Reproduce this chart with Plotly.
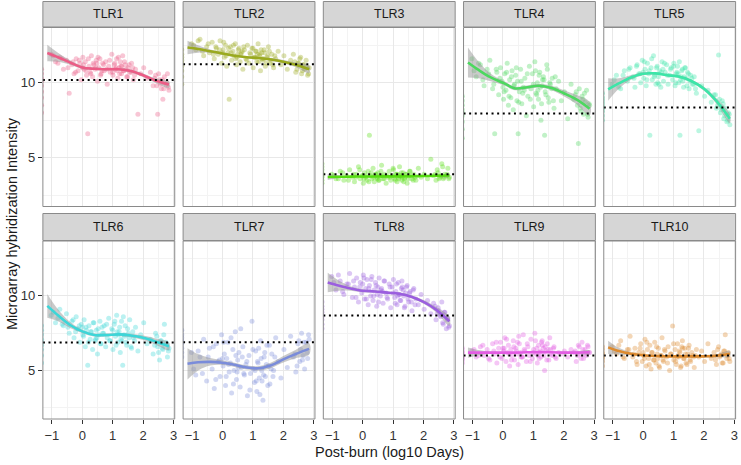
import plotly.graph_objects as go

# ---------------- data ----------------
genes = ["TLR1", "TLR2", "TLR3", "TLR4", "TLR5", "TLR6", "TLR7", "TLR8", "TLR9", "TLR10"]
gene_colors = ["#EC5C86", "#9AAA1E", "#55DD11", "#4CD85E", "#3CE6A8",
               "#3CD6D8", "#7A8CDA", "#9B5EDF", "#E35CE3", "#DD8A2E"]

# post-burn time of each patient sample (log10 days), shared by all genes
sample_x = [-1.02, -0.88, -0.74, -0.62, -0.52, -0.43,
            -0.34, -0.27, -0.2, -0.14, -0.08, -0.03, 0.02, 0.06, 0.1, 0.14, 0.18, 0.22, 0.26, 0.3,
            0.34, 0.38, 0.42, 0.46, 0.5, 0.54, 0.58, 0.62, 0.67, 0.72, 0.77, 0.82, 0.87, 0.92,
            0.97, 1.01, 1.05, 1.09, 1.13, 1.17, 1.21, 1.25, 1.29, 1.33, 1.37, 1.41, 1.46, 1.51,
            1.56, 1.62, 1.68, 1.75, 1.83, 1.92, 2.02, 2.13, 2.24, 2.33, 2.41, 2.48, 2.54, 2.6,
            2.65, 2.7, 2.75, 2.8, 2.85, 0.0, 0.48, 1.15, 1.3, 0.65,
            -0.95, -0.8, -0.66, -0.47, -0.3, -0.22, -0.1, 0.04, 0.12, 0.2, 0.28, 0.36, 0.44, 0.52,
            0.6, 0.7, 0.8, 0.9, 1.0, 1.07, 1.11, 1.19, 1.23, 1.27, 1.35, 1.39, 1.44, 1.49, 1.54,
            1.6, 1.66, 1.72, 2.38, 2.45, 2.51, 2.57, 2.63, 2.68, 2.78, 2.83]

expr_TLR1 = [11.9, 11.4, 11.7, 10.9, 11.5, 9.3, 11.2, 10.6, 11.6, 10.8, 11.3, 10.2, 11.7, 10.9, 11.4, 10.5,
             6.6, 11.1, 10.7, 11.8, 10.4, 11.2, 10.9, 11.5, 10.1, 11.0, 11.6, 10.6, 11.3, 10.8, 11.4, 9.9,
             11.1, 10.7, 11.9, 10.5, 11.2, 10.9, 11.6, 10.3, 11.0, 11.4, 10.6, 11.8, 10.8, 11.2, 10.4, 11.0,
             10.7, 11.3, 10.2, 10.9, 7.9, 10.6, 11.0, 10.3, 10.7, 9.8, 10.5, 7.9, 10.2, 9.6, 8.9, 10.4,
             9.9, 10.6, 9.5, 11.0, 11.3, 10.8, 11.1, 10.8,
             11.8, 11.3, 11.6, 11.0, 11.4, 10.7, 11.5, 11.2, 10.8, 11.6, 10.6, 11.3, 11.0, 11.7, 10.5,
             11.2, 10.9, 11.5, 10.7, 11.3, 11.0, 11.7, 10.6, 11.1, 10.8, 11.4, 10.9, 10.4, 11.2, 10.7,
             11.0, 10.5, 10.3, 9.8, 10.6, 9.9, 10.2, 9.6, 10.0, 9.7]
expr_TLR2 = [12.6, 12.2, 12.9, 11.8, 12.4, 12.0, 12.7, 11.6, 12.3, 11.9, 12.8, 11.3, 12.2, 11.7, 12.5, 11.1,
             12.0, 8.9, 12.4, 11.5, 12.1, 11.8, 12.6, 11.2, 11.9, 12.3, 11.4, 12.0, 10.9, 12.2, 11.6, 12.5,
             11.3, 11.9, 12.3, 11.0, 11.7, 12.1, 11.4, 12.6, 11.8, 10.8, 12.0, 11.5, 12.2, 11.1, 11.7, 12.4,
             11.3, 11.9, 11.0, 11.6, 12.1, 11.2, 11.8, 10.9, 11.5, 11.9, 10.7, 11.3, 11.6, 10.6, 11.2, 10.9,
             11.5, 10.5, 11.0, 12.0, 11.7, 11.9, 11.6, 12.1,
             12.5, 12.8, 12.1, 12.6, 11.9, 12.4, 12.2, 12.7, 11.8, 12.3, 12.0, 12.5, 11.6, 12.2, 11.9,
             12.4, 11.5, 12.0, 12.3, 11.7, 12.1, 11.4, 11.9, 12.2, 11.6, 12.0, 11.3, 11.8, 12.1, 11.5,
             11.2, 11.8, 11.4, 10.9, 11.3, 11.7, 10.8, 11.2, 11.0, 10.6]
expr_TLR3 = [3.9, 3.6, 4.1, 3.5, 3.8, 4.2, 3.7, 3.4, 3.9, 4.4, 3.6, 3.8, 3.3, 4.0, 3.7, 3.5,
             4.1, 6.5, 3.8, 3.6, 4.3, 3.4, 3.9, 3.7, 4.0, 3.5, 3.8, 4.5, 3.6, 3.9, 3.3, 3.7,
             4.1, 3.5, 3.8, 4.2, 3.6, 3.9, 3.4, 3.7, 4.4, 3.8, 3.5, 4.0, 3.6, 3.9, 3.3, 3.8,
             4.1, 3.6, 3.9, 3.5, 4.3, 3.7, 3.9, 3.6, 4.9, 3.8, 3.5, 4.0, 3.7, 4.6, 3.6, 3.9,
             3.8, 4.3, 3.7, 3.8, 3.6, 3.9, 3.7, 3.8,
             3.8, 3.6, 4.0, 3.5, 3.9, 3.7, 4.2, 3.6, 3.8, 3.4, 4.0, 3.7, 3.9, 3.5, 4.1,
             3.6, 3.8, 3.7, 4.3, 3.5, 3.9, 3.6, 3.8, 4.0, 3.4, 3.7, 3.9, 3.6, 4.1, 3.8,
             3.5, 3.7, 3.9, 4.2, 3.6, 3.8, 4.4, 3.7, 3.9, 3.6]
expr_TLR4 = [11.6, 10.4, 11.2, 9.8, 10.9, 11.5, 9.6, 6.6, 10.7, 9.2, 11.0, 10.1, 8.9, 10.6, 9.5, 11.3,
             8.5, 10.2, 9.0, 10.8, 8.2, 9.9, 10.5, 8.8, 6.6, 9.4, 10.9, 8.6, 9.7, 10.3, 7.8, 9.1,
             11.1, 9.6, 10.6, 8.4, 11.4, 9.3, 10.0, 8.9, 10.7, 7.5, 9.8, 10.4, 6.5, 9.2, 10.9, 8.7,
             9.9, 10.3, 8.3, 9.6, 10.1, 8.8, 9.4, 7.6, 9.9, 8.9, 9.4, 5.95, 8.3, 9.1, 7.9, 8.7,
             9.5, 7.7, 8.5, 9.7, 10.1, 9.5, 10.2, 9.3,
             10.8, 11.3, 10.2, 10.6, 9.9, 10.9, 10.3, 9.4, 10.7, 9.1, 10.4, 9.8, 11.0, 8.7, 10.1,
             9.5, 10.6, 8.9, 9.9, 10.8, 9.2, 10.5, 9.7, 8.6, 10.2, 9.4, 11.2, 9.0, 10.0, 9.6,
             8.8, 10.4, 9.2, 8.5, 9.6, 8.1, 8.9, 9.3, 7.9, 8.6]
expr_TLR5 = [9.9, 10.5, 9.6, 10.8, 10.1, 11.0, 10.4, 9.7, 11.2, 10.6, 10.0, 11.5, 10.3, 10.9, 9.8, 11.3,
             10.6, 6.5, 11.0, 10.2, 11.8, 10.5, 9.9, 11.1, 10.4, 10.8, 9.7, 11.4, 10.1, 10.7, 11.2, 9.9,
             10.5, 11.0, 10.2, 11.3, 9.8, 10.6, 11.1, 10.0, 6.5, 10.4, 10.9, 9.7, 11.0, 10.3, 10.7, 9.6,
             10.5, 9.9, 10.4, 9.3, 6.8, 9.8, 9.1, 9.5, 8.7, 9.2, 8.3, 11.85, 8.0, 8.8, 7.6, 8.3,
             7.4, 8.0, 7.2, 10.7, 10.0, 10.6, 10.1, 10.9,
             10.2, 9.7, 10.5, 10.9, 10.3, 11.1, 10.6, 11.4, 10.2, 10.8, 11.6, 10.4, 11.0, 9.9, 10.7,
             11.3, 10.5, 10.9, 11.1, 10.0, 10.7, 11.4, 10.2, 10.8, 10.4, 11.0, 9.8, 10.6, 10.1, 10.3,
             9.9, 9.6, 9.2, 8.5, 8.9, 8.2, 8.6, 7.8, 7.5, 7.9]
expr_TLR6 = [8.7, 8.2, 9.1, 8.0, 8.8, 7.5, 8.3, 7.2, 8.6, 7.8, 6.9, 8.1, 7.4, 8.4, 6.6, 7.7,
             5.35, 8.0, 7.1, 7.6, 6.4, 8.2, 7.0, 7.7, 6.1, 7.4, 8.3, 6.8, 7.5, 8.0, 6.6, 7.2,
             8.5, 7.0, 7.8, 6.4, 8.1, 7.3, 8.7, 6.9, 7.6, 6.2, 8.3, 5.35, 7.4, 8.0, 6.7, 7.5,
             8.4, 6.5, 7.2, 7.9, 6.3, 7.4, 8.2, 6.8, 7.1, 6.1, 7.5, 6.6, 5.7, 7.0, 6.4, 8.1,
             6.9, 5.9, 6.5, 7.9, 7.2, 7.6, 7.0, 7.9,
             8.9, 8.5, 8.1, 7.9, 8.4, 7.6, 8.0, 7.3, 7.9, 6.9, 7.6, 8.2, 7.1, 7.8, 6.8,
             7.5, 8.1, 7.0, 7.7, 8.3, 6.7, 7.4, 7.9, 7.1, 8.6, 7.3, 6.9, 7.8, 7.2, 6.6,
             7.6, 7.0, 6.7, 7.3, 6.2, 7.0, 6.5, 7.4, 6.8, 6.3]
expr_TLR7 = [6.2, 4.7, 5.9, 7.1, 4.3, 6.5, 5.1, 3.8, 6.8, 5.6, 4.6, 7.4, 5.3, 6.1, 4.0, 5.8,
             6.9, 4.9, 5.5, 3.5, 6.4, 5.0, 7.6, 4.4, 5.7, 6.2, 3.9, 5.2, 6.6, 4.7, 5.4, 3.3,
             6.0, 4.8, 8.3, 5.1, 4.2, 6.3, 3.6, 5.5, 4.5, 7.0, 5.0, 3.0, 5.9, 4.6, 6.7, 5.3,
             4.1, 6.1, 5.0, 7.2, 5.6, 4.5, 6.4, 5.2, 7.3, 5.9, 4.9, 6.8, 5.6, 7.5, 6.0, 5.1,
             6.9, 5.8, 7.1, 5.8, 4.9, 5.6, 4.3, 5.9,
             5.1, 6.3, 4.8, 5.9, 6.6, 4.4, 5.7, 6.9, 4.6, 5.4, 7.2, 4.1, 6.0, 5.2, 7.8,
             4.8, 5.6, 3.7, 6.4, 5.0, 4.3, 6.5, 3.4, 5.8, 4.7, 6.2, 5.4, 4.0, 6.7, 5.1,
             4.6, 5.9, 6.1, 5.3, 7.0, 6.4, 5.7, 6.9, 6.2, 7.4]
expr_TLR8 = [11.3, 10.4, 11.0, 10.1, 10.8, 11.5, 9.9, 10.6, 11.2, 9.6, 10.9, 10.2, 11.4, 9.8, 10.5, 11.1,
             9.4, 10.7, 10.0, 11.3, 9.7, 10.4, 10.9, 9.3, 10.6, 11.2, 10.0, 10.5, 9.5, 11.0, 10.2, 9.8,
             10.8, 9.2, 10.6, 11.1, 9.9, 10.3, 9.4, 10.9, 10.1, 9.7, 11.0, 10.4, 9.2, 10.2, 10.7, 9.6,
             10.3, 9.0, 10.5, 9.8, 9.4, 10.1, 9.1, 9.7, 8.8, 9.5, 8.4, 9.2, 8.7, 9.6, 8.1, 8.9,
             7.8, 8.5, 8.0, 10.8, 10.1, 10.0, 10.6, 10.3,
             10.9, 11.4, 10.3, 10.8, 11.0, 9.9, 10.6, 11.2, 9.8, 10.5, 11.1, 10.0, 10.7, 9.6, 10.4,
             11.0, 9.9, 10.6, 10.2, 9.5, 10.8, 10.1, 9.7, 10.5, 10.0, 9.3, 10.6, 9.8, 10.2, 9.6,
             10.4, 9.4, 9.3, 8.8, 9.0, 8.6, 8.2, 8.9, 8.4, 7.9]
expr_TLR9 = [6.3, 5.9, 6.6, 6.0, 6.4, 5.7, 6.8, 6.1, 5.5, 6.5, 6.9, 5.8, 6.3, 7.2, 5.6, 6.2,
             6.7, 5.3, 6.4, 6.0, 7.0, 5.7, 6.5, 6.1, 5.4, 6.8, 6.2, 5.9, 7.4, 6.3, 5.6, 6.6,
             6.0, 7.1, 5.8, 6.4, 7.5, 6.1, 5.5, 6.7, 6.2, 5.9, 7.0, 6.5, 5.0, 6.3, 6.8, 5.7,
             6.4, 6.0, 6.6, 5.8, 6.2, 6.1, 6.3, 5.9, 6.4, 6.2, 5.6, 6.7, 6.1, 6.9, 5.8, 6.4,
             6.0, 6.6, 6.2, 6.5, 6.9, 6.0, 6.7, 5.9,
             6.4, 6.0, 6.7, 5.8, 6.3, 6.9, 5.9, 6.5, 7.1, 6.1, 5.7, 6.6, 6.3, 7.3, 5.9,
             6.4, 6.8, 5.6, 6.2, 7.0, 6.5, 5.8, 6.3, 6.9, 6.0, 6.6, 5.7, 6.4, 7.2, 6.1,
             6.5, 5.9, 6.3, 6.0, 6.6, 5.8, 6.4, 6.1, 6.7, 6.2]
expr_TLR10 = [6.6, 6.1, 7.0, 5.8, 6.4, 7.3, 5.9, 6.5, 5.4, 6.2, 6.8, 5.6, 6.0, 7.1, 5.3, 6.4,
              5.8, 6.7, 5.1, 6.2, 5.7, 6.9, 5.5, 6.1, 6.5, 5.2, 6.0, 7.2, 5.6, 6.3, 5.9, 6.6,
              5.0, 6.1, 7.98, 5.7, 6.4, 5.4, 6.8, 5.9, 6.2, 5.3, 7.0, 5.8, 6.5, 5.5, 6.1, 6.7,
              5.6, 6.0, 5.2, 6.4, 5.9, 6.3, 5.6, 6.8, 5.8, 6.2, 5.4, 6.6, 6.0, 5.5, 6.3, 7.4,
              5.8, 6.2, 5.6, 6.2, 5.8, 6.0, 6.5, 5.7,
              6.3, 6.7, 5.9, 6.4, 6.1, 5.6, 6.5, 5.8, 6.9, 5.4, 6.2, 5.7, 6.6, 5.3, 6.0,
              6.4, 5.5, 6.1, 6.8, 5.6, 5.9, 6.3, 5.2, 6.6, 5.8, 6.1, 5.4, 6.5, 5.7, 6.2,
              5.9, 6.0, 5.7, 6.4, 5.9, 6.1, 5.5, 6.3, 6.0, 5.8]

# control samples (plotted at the left edge of each panel)
control_log10_day = -1.34
ctrl_TLR1 = [8.0, 8.5, 9.0, 9.4, 9.8, 10.1, 10.3, 10.6, 10.9]
ctrl_TLR2 = [9.9, 10.4, 10.8, 11.1, 11.3, 11.5, 11.7, 11.9, 12.2]
ctrl_TLR3 = [3.3, 3.5, 3.7, 3.8, 3.9, 4.0, 4.2, 4.4, 4.6]
ctrl_TLR4 = [6.3, 6.9, 7.4, 7.8, 8.0, 8.2, 8.5, 8.8, 9.1]
ctrl_TLR5 = [7.5, 7.8, 8.1, 8.3, 8.4, 8.6, 8.8, 9.0, 9.3]
ctrl_TLR6 = [5.5, 6.0, 6.4, 6.7, 6.9, 7.1, 7.4, 7.7, 8.0]
ctrl_TLR7 = [5.9, 6.2, 6.5, 6.8, 6.9, 7.0, 7.2, 7.4, 7.7]
ctrl_TLR8 = [7.8, 8.1, 8.4, 8.6, 8.7, 8.9, 9.1, 9.3, 9.6]
ctrl_TLR9 = [5.5, 5.7, 5.8, 5.9, 6.0, 6.1, 6.2, 6.3, 6.5]
ctrl_TLR10 = [5.3, 5.6, 5.8, 5.9, 6.0, 6.1, 6.2, 6.4, 6.6]

# control mean (dotted reference line)
control_mean = [10.18, 11.23, 3.9, 7.94, 8.34, 6.87, 6.9, 8.68, 6.01, 6.0]

# loess smooth and its confidence half-width
smooth_x = [-1.15, -0.8, -0.4, 0.0, 0.4, 0.8, 1.2, 1.6, 2.0, 2.4, 2.85]
fit_TLR1 = [11.98, 11.7, 11.35, 11.02, 10.93, 10.9, 10.9, 10.78, 10.5, 10.15, 9.88]
fit_TLR2 = [12.35, 12.25, 12.1, 11.95, 11.8, 11.7, 11.65, 11.55, 11.4, 11.2, 10.9]
fit_TLR3 = [3.72, 3.73, 3.74, 3.75, 3.75, 3.76, 3.76, 3.77, 3.78, 3.8, 3.82]
fit_TLR4 = [11.35, 10.85, 10.35, 10.0, 9.62, 9.7, 9.8, 9.65, 9.3, 8.9, 8.27]
fit_TLR5 = [9.55, 9.95, 10.35, 10.6, 10.62, 10.5, 10.4, 10.1, 9.6, 8.8, 7.6]
fit_TLR6 = [9.33, 8.7, 8.05, 7.62, 7.38, 7.38, 7.42, 7.35, 7.2, 6.95, 6.62]
fit_TLR7 = [5.45, 5.55, 5.58, 5.52, 5.38, 5.2, 5.15, 5.35, 5.75, 6.1, 6.45]
fit_TLR8 = [10.9, 10.7, 10.5, 10.35, 10.3, 10.22, 10.15, 9.95, 9.6, 9.1, 8.3]
fit_TLR9 = [6.2, 6.2, 6.2, 6.2, 6.2, 6.22, 6.23, 6.22, 6.2, 6.2, 6.22]
fit_TLR10 = [6.55, 6.3, 6.12, 6.02, 5.97, 5.95, 5.95, 5.95, 5.95, 5.98, 6.12]
se_TLR1 = [0.55, 0.3, 0.15, 0.1, 0.08, 0.08, 0.08, 0.1, 0.12, 0.15, 0.22]
se_TLR2 = [0.45, 0.25, 0.12, 0.08, 0.07, 0.07, 0.07, 0.09, 0.12, 0.15, 0.25]
se_TLR3 = [0.2, 0.1, 0.05, 0.04, 0.03, 0.03, 0.03, 0.04, 0.05, 0.06, 0.1]
se_TLR4 = [1.0, 0.55, 0.25, 0.15, 0.12, 0.12, 0.12, 0.15, 0.2, 0.3, 0.45]
se_TLR5 = [0.75, 0.35, 0.15, 0.1, 0.08, 0.08, 0.08, 0.1, 0.13, 0.18, 0.3]
se_TLR6 = [0.8, 0.4, 0.2, 0.12, 0.1, 0.1, 0.1, 0.12, 0.15, 0.2, 0.25]
se_TLR7 = [1.05, 0.55, 0.25, 0.15, 0.14, 0.14, 0.15, 0.18, 0.22, 0.28, 0.38]
se_TLR8 = [0.65, 0.35, 0.15, 0.1, 0.08, 0.08, 0.08, 0.1, 0.13, 0.18, 0.3]
se_TLR9 = [0.35, 0.18, 0.08, 0.05, 0.04, 0.04, 0.04, 0.05, 0.07, 0.08, 0.12]
se_TLR10 = [0.45, 0.22, 0.1, 0.06, 0.05, 0.05, 0.05, 0.06, 0.08, 0.1, 0.18]

x_tickvals = [-1, 0, 1, 2, 3]
x_ticktext = ["\u22121", "0", "1", "2", "3"]
y_tickvals = [5, 10]
y_ticktext = ["5", "10"]

expr = [expr_TLR1, expr_TLR2, expr_TLR3, expr_TLR4, expr_TLR5,
        expr_TLR6, expr_TLR7, expr_TLR8, expr_TLR9, expr_TLR10]
ctrl = [ctrl_TLR1, ctrl_TLR2, ctrl_TLR3, ctrl_TLR4, ctrl_TLR5,
        ctrl_TLR6, ctrl_TLR7, ctrl_TLR8, ctrl_TLR9, ctrl_TLR10]
fits = [fit_TLR1, fit_TLR2, fit_TLR3, fit_TLR4, fit_TLR5,
        fit_TLR6, fit_TLR7, fit_TLR8, fit_TLR9, fit_TLR10]
ses = [se_TLR1, se_TLR2, se_TLR3, se_TLR4, se_TLR5,
       se_TLR6, se_TLR7, se_TLR8, se_TLR9, se_TLR10]

# ---------------- layout geometry (pixels) ----------------
W, H = 741, 465
FONT = "Liberation Sans, Arial, Helvetica, sans-serif"
X_RANGE = [-1.295, 3.04]
Y_RANGE = [1.75, 13.68]
col_left0, col_step, panel_w = 43.0, 140.6, 132.2
rows_geom = [dict(strip=(1.5, 27.0), panel=(27.5, 206.5)),
             dict(strip=(213.5, 240.5), panel=(241.0, 419.0))]


def fx(px):
    return px / W


def fy(py):
    return 1 - py / H


fig = go.Figure()
layout = dict(width=W, height=H, margin=dict(l=0, r=0, t=0, b=0),
              paper_bgcolor="white", plot_bgcolor="white", showlegend=False)
shapes, annotations = [], []

for i, g in enumerate(genes):
    r, c = divmod(i, 5)
    geo = rows_geom[r]
    x0 = col_left0 + col_step * c
    x1 = x0 + panel_w
    sfx = "" if i == 0 else str(i + 1)
    xa, ya = "x" + sfx, "y" + sfx
    col = gene_colors[i]

    layout["xaxis" + sfx] = dict(
        domain=[fx(x0), fx(x1)], range=X_RANGE, anchor=ya, fixedrange=True,
        showgrid=True, gridcolor="#e8e8e8", gridwidth=1, zeroline=False, showline=False,
        tickmode="array", tickvals=x_tickvals, ticktext=x_ticktext,
        showticklabels=(r == 1), ticks="outside" if r == 1 else "",
        ticklen=4, tickwidth=1, tickcolor="#333333",
        tickfont=dict(family=FONT, size=13, color="#333333"),
        minor=dict(tickvals=[-0.5, 0.5, 1.5, 2.5], showgrid=True, gridcolor="#f3f3f3", gridwidth=0.8),
    )
    layout["yaxis" + sfx] = dict(
        domain=[fy(geo["panel"][1]), fy(geo["panel"][0])], range=Y_RANGE, anchor=xa, fixedrange=True,
        showgrid=True, gridcolor="#e8e8e8", gridwidth=1, zeroline=False, showline=False,
        tickmode="array", tickvals=y_tickvals, ticktext=y_ticktext,
        showticklabels=(c == 0), ticks="outside" if c == 0 else "",
        ticklen=4, tickwidth=1, tickcolor="#333333",
        tickfont=dict(family=FONT, size=13, color="#333333"),
        minor=dict(tickvals=[2.5, 7.5, 12.5], showgrid=True, gridcolor="#f3f3f3", gridwidth=0.8),
    )

    # control samples
    fig.add_trace(go.Scatter(x=[control_log10_day] * len(ctrl[i]), y=ctrl[i], mode="markers",
                             xaxis=xa, yaxis=ya, hoverinfo="skip",
                             marker=dict(size=5, color=col, opacity=0.45, line=dict(width=0))))
    # patient samples
    fig.add_trace(go.Scatter(x=sample_x, y=expr[i], mode="markers", xaxis=xa, yaxis=ya,
                             marker=dict(size=5, color=col, opacity=0.35, line=dict(width=0))))
    # confidence band
    upper = [f + s for f, s in zip(fits[i], ses[i])]
    lower = [f - s for f, s in zip(fits[i], ses[i])]
    fig.add_trace(go.Scatter(x=smooth_x + smooth_x[::-1], y=upper + lower[::-1],
                             mode="lines", fill="toself", fillcolor="rgba(150,150,150,0.5)",
                             line=dict(width=0, shape="spline"), xaxis=xa, yaxis=ya, hoverinfo="skip"))
    # smooth
    fig.add_trace(go.Scatter(x=smooth_x, y=fits[i], mode="lines", xaxis=xa, yaxis=ya,
                             line=dict(color=col, width=2.6, shape="spline")))
    # control mean line
    shapes.append(dict(type="line", xref=xa + " domain", yref=ya, x0=0, x1=1,
                       y0=control_mean[i], y1=control_mean[i],
                       line=dict(color="black", width=2, dash="2px,3.6px"), layer="above"))
    # panel border
    shapes.append(dict(type="rect", xref="paper", yref="paper",
                       x0=fx(x0), x1=fx(x1), y0=fy(geo["panel"][1]), y1=fy(geo["panel"][0]),
                       line=dict(color="#8a8a8a", width=1), fillcolor="rgba(0,0,0,0)", layer="above"))
    # strip
    shapes.append(dict(type="rect", xref="paper", yref="paper",
                       x0=fx(x0), x1=fx(x1), y0=fy(geo["strip"][1]), y1=fy(geo["strip"][0]),
                       line=dict(color="#8a8a8a", width=1), fillcolor="#d6d6d6", layer="above"))
    annotations.append(dict(text=g, xref="paper", yref="paper", showarrow=False,
                            x=fx((x0 + x1) / 2), y=fy((geo["strip"][0] + geo["strip"][1]) / 2),
                            xanchor="center", yanchor="middle",
                            font=dict(family=FONT, size=12.5, color="#1a1a1a")))

annotations.append(dict(text="Post-burn (log10 Days)", xref="paper", yref="paper", showarrow=False,
                        x=fx(390.5), y=fy(452), xanchor="center", yanchor="middle",
                        font=dict(family=FONT, size=14.5, color="#1a1a1a")))
annotations.append(dict(text="Microarray hybridization Intensity", xref="paper", yref="paper",
                        showarrow=False, textangle=-90, x=fx(12), y=fy(223),
                        xanchor="center", yanchor="middle",
                        font=dict(family=FONT, size=14.5, color="#1a1a1a")))

layout["shapes"] = shapes
layout["annotations"] = annotations
fig.update_layout(**layout)
fig.write_html("out.html", config={"displayModeBar": False},
               post_script="document.body.style.margin='0px';document.body.style.overflow='hidden';")
